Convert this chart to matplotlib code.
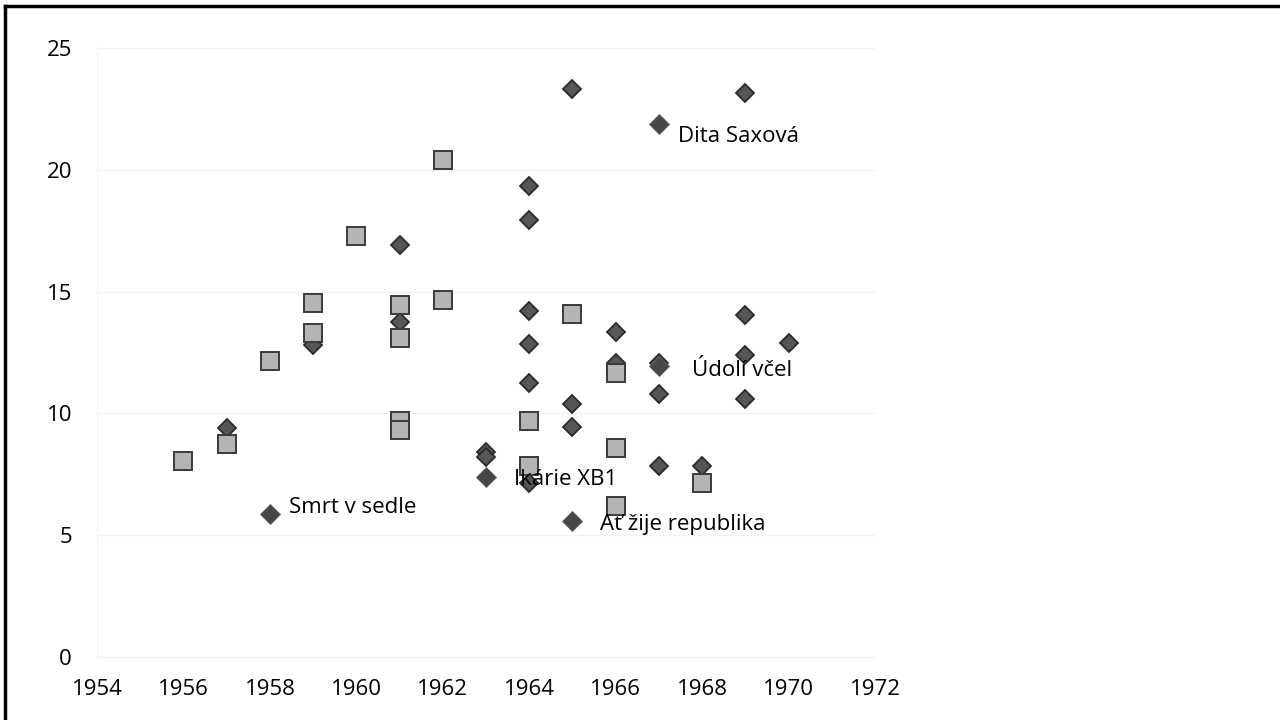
import numpy as np
import matplotlib as mpl
mpl.use("Agg")
import matplotlib.pyplot as plt
from matplotlib.lines import Line2D

mpl.rcParams['font.family'] = ['Open Sans', 'DejaVu Sans']
mpl.rcParams['font.size'] = 16

# squares (lighter series)
sq_year = [1956, 1957, 1958, 1959, 1959, 1960, 1961, 1961, 1961, 1961,
           1962, 1962, 1964, 1964, 1965, 1966, 1966, 1966, 1968]
sq_val = [8.05, 8.75, 12.15, 14.53, 13.3, 17.3, 14.45, 13.1, 9.7, 9.3,
          20.4, 14.65, 9.7, 7.85, 14.1, 11.65, 8.6, 6.2, 7.15]

# diamonds (darker series)
dm_year = [1957, 1959, 1961, 1961, 1963, 1963, 1964, 1964, 1964, 1964,
           1964, 1964, 1965, 1965, 1965, 1966, 1966, 1967, 1967, 1967,
           1968, 1969, 1969, 1969, 1969, 1970]
dm_val = [9.42, 12.8, 13.75, 16.9, 8.4, 8.2, 19.33, 17.94, 14.2, 12.85,
          11.25, 7.15, 23.3, 10.4, 9.44, 13.33, 12.06, 12.05, 10.8, 7.85,
          7.85, 23.14, 14.04, 12.4, 10.6, 12.9]

# labelled films
lab_year = [1958, 1963, 1965, 1967, 1967]
lab_val = [5.87, 7.4, 5.58, 21.9, 11.95]
lab_text = ['Smrt v sedle', 'Ikárie XB1', 'Ať žije republika', 'Dita Saxová', 'Údolí včel']
lab_off = [(14, 4.5), (20, -2), (20, -2.2), (14, -9.5), (24, -3)]

fig = plt.figure(figsize=(12.8, 7.2), dpi=100)
ax = fig.add_axes([0.0758, 0.0875, 0.6078, 0.8458])

ax.plot(dm_year, dm_val, linestyle='None', marker='D', ms=9.6,
        mfc='#565656', mec='#2a2a2a', mew=1.3, zorder=3)
ax.plot(sq_year, sq_val, linestyle='None', marker='s', ms=12.6,
        mfc='#b4b4b4', mec='#3a3a3a', mew=1.4, zorder=4)
ax.plot(lab_year, lab_val, linestyle='None', marker='D', ms=10.4,
        mfc='#474747', mec='#606060', mew=0.6, zorder=5)

for x, y, t, off in zip(lab_year, lab_val, lab_text, lab_off):
    ax.annotate(t, (x, y), xytext=off, textcoords='offset points',
                ha='left', va='center', fontsize=16, color='black', zorder=6)

ax.set_xlim(1954, 1972)
ax.set_ylim(0, 25)
ax.set_xticks(np.arange(1954, 1973, 2))
ax.set_yticks(np.arange(0, 26, 5))
ax.yaxis.grid(True, color='#f3f3f3', lw=1)
ax.set_axisbelow(True)
for s in ['top', 'right']:
    ax.spines[s].set_visible(False)
for s in ['left', 'bottom']:
    ax.spines[s].set_color('#f3f3f3')
ax.tick_params(length=0, pad=18, labelsize=16)
ax.tick_params(axis='x', pad=16)

# outer frame (top and left)
fig.add_artist(Line2D([0.004, 1.0], [0.991, 0.991], transform=fig.transFigure,
                      color='black', lw=2.5))
fig.add_artist(Line2D([0.004, 0.004], [0.0, 0.991], transform=fig.transFigure,
                      color='black', lw=2.5))

fig.savefig('out.png', dpi=100)
